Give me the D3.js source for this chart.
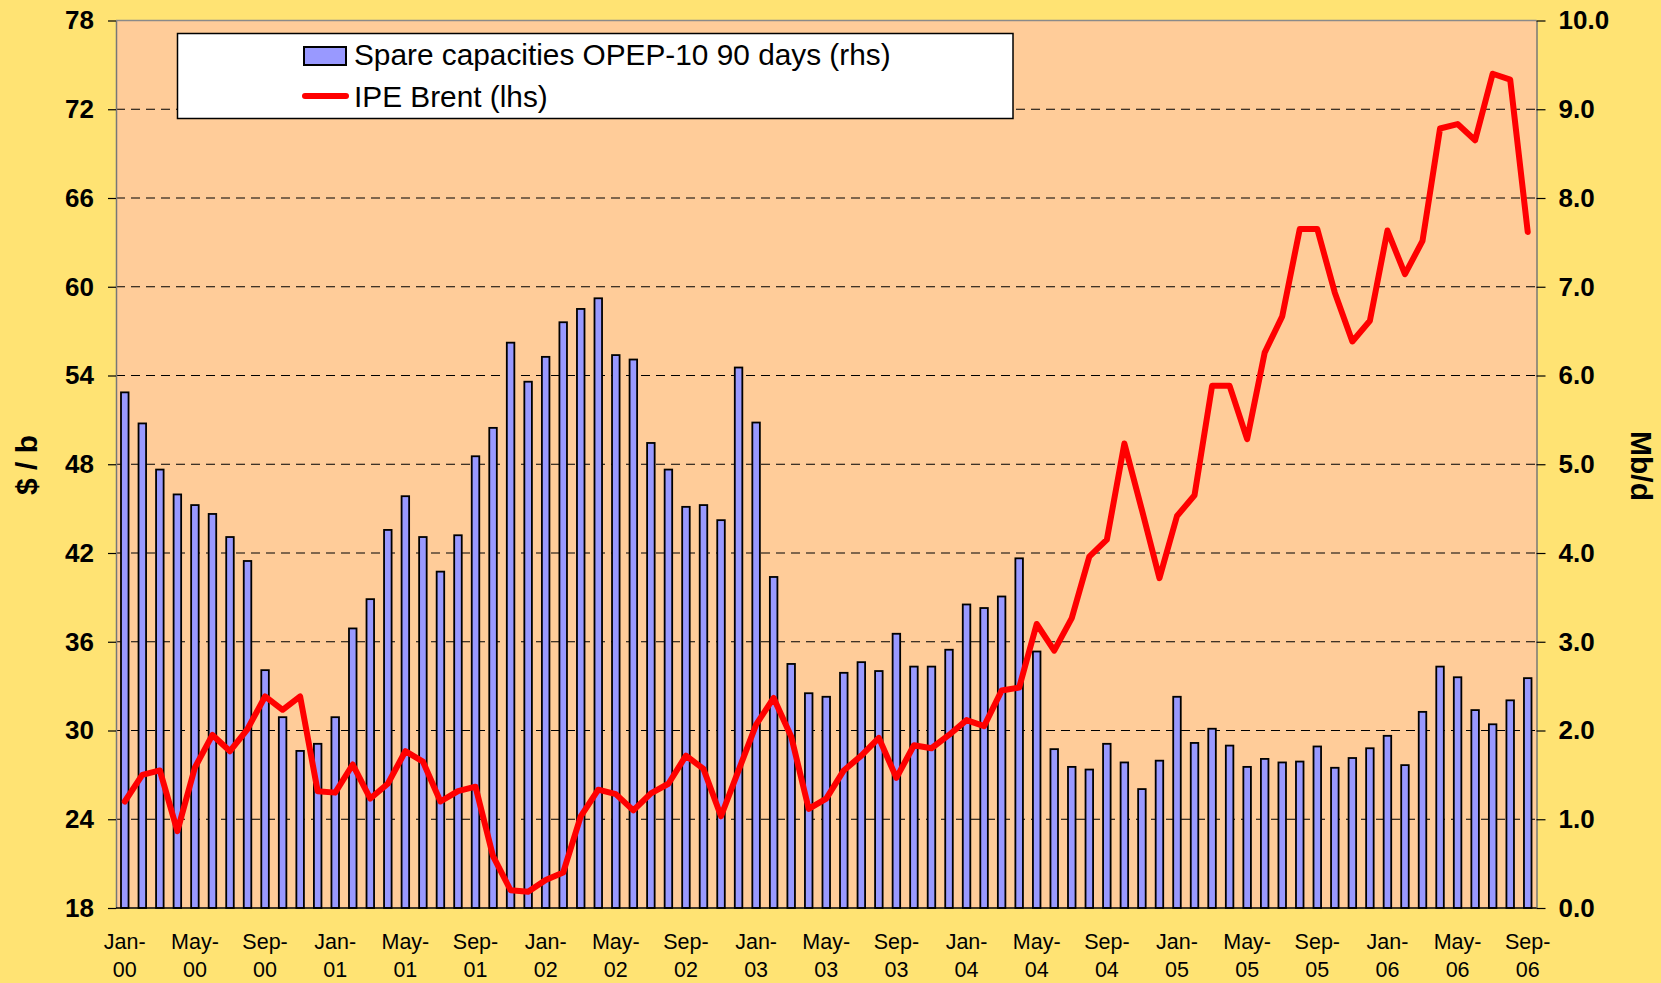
<!DOCTYPE html>
<html>
<head>
<meta charset="utf-8">
<script src="https://cdn.jsdelivr.net/npm/d3@7"></script>
<style>
  body { margin: 0; background: #FFE373; }
  svg { display: block; }
  text { font-family: "Liberation Sans", Arial, sans-serif; }
</style>
</head>
<body>
<div id="chart"></div>
<script>
(function(){
  'use strict';

  var months = [
    'Jan-00','Feb-00','Mar-00','Apr-00','May-00','Jun-00','Jul-00','Aug-00','Sep-00','Oct-00','Nov-00','Dec-00',
    'Jan-01','Feb-01','Mar-01','Apr-01','May-01','Jun-01','Jul-01','Aug-01','Sep-01','Oct-01','Nov-01','Dec-01',
    'Jan-02','Feb-02','Mar-02','Apr-02','May-02','Jun-02','Jul-02','Aug-02','Sep-02','Oct-02','Nov-02','Dec-02',
    'Jan-03','Feb-03','Mar-03','Apr-03','May-03','Jun-03','Jul-03','Aug-03','Sep-03','Oct-03','Nov-03','Dec-03',
    'Jan-04','Feb-04','Mar-04','Apr-04','May-04','Jun-04','Jul-04','Aug-04','Sep-04','Oct-04','Nov-04','Dec-04',
    'Jan-05','Feb-05','Mar-05','Apr-05','May-05','Jun-05','Jul-05','Aug-05','Sep-05','Oct-05','Nov-05','Dec-05',
    'Jan-06','Feb-06','Mar-06','Apr-06','May-06','Jun-06','Jul-06','Aug-06','Sep-06'
  ];

  // spare capacities OPEP-10, Mb/d (rhs)
  var spareCap = [
    5.81, 5.46, 4.94, 4.66, 4.54, 4.44, 4.18, 3.91, 2.68, 2.15, 1.77, 1.85,
    2.15, 3.15, 3.48, 4.26, 4.64, 4.18, 3.79, 4.20, 5.09, 5.41, 6.37, 5.93,
    6.21, 6.60, 6.75, 6.87, 6.23, 6.18, 5.24, 4.94, 4.52, 4.54, 4.37, 6.09,
    5.47, 3.73, 2.75, 2.42, 2.38, 2.65, 2.77, 2.67, 3.09, 2.72, 2.72, 2.91,
    3.42, 3.38, 3.51, 3.94, 2.89, 1.79, 1.59, 1.56, 1.85, 1.64, 1.34, 1.66,
    2.38, 1.86, 2.02, 1.83, 1.59, 1.68, 1.64, 1.65, 1.82, 1.58, 1.69, 1.80,
    1.94, 1.61, 2.21, 2.72, 2.60, 2.23, 2.07, 2.34, 2.59
  ];

  // IPE Brent, $/b (lhs)
  var brent = [
    25.2, 27.0, 27.3, 23.2, 27.5, 29.7, 28.6, 30.1, 32.3, 31.4, 32.3, 25.9,
    25.8, 27.7, 25.4, 26.4, 28.6, 27.9, 25.2, 25.9, 26.2, 21.5, 19.2, 19.1,
    19.9, 20.4, 24.2, 26.0, 25.7, 24.6, 25.75, 26.4, 28.3, 27.4, 24.2, 27.3,
    30.4, 32.2, 29.6, 24.7, 25.4, 27.3, 28.3, 29.5, 26.8, 29.0, 28.8, 29.7,
    30.7, 30.3, 32.7, 32.9, 37.2, 35.4, 37.6, 41.75, 42.9, 49.4, 44.9, 40.3,
    44.5, 45.9, 53.3, 53.3, 49.7, 55.55, 58.0, 63.9, 63.9, 59.6, 56.3, 57.7,
    63.8, 60.85, 63.1, 70.7, 71.0, 69.9, 74.4, 74.0, 63.7
  ];

  var leftTicks = [18, 24, 30, 36, 42, 48, 54, 60, 66, 72, 78];
  var rightTicks = [0, 1, 2, 3, 4, 5, 6, 7, 8, 9, 10];
  var legendLabels = ['Spare capacities OPEP-10 90 days (rhs)', 'IPE Brent (lhs)'];

  var w = 1661, h = 983,
      left = 116, right = 1536.5, top = 20.5, bottom = 908;

  var svg = d3.select('#chart').append('svg')
    .attr('width', w)
    .attr('height', h);

  svg.append('rect')
    .attr('width', w).attr('height', h)
    .attr('fill', '#FFE373');

  svg.append('rect')
    .attr('x', left).attr('y', top)
    .attr('width', right - left).attr('height', bottom - top)
    .attr('fill', '#FFCC99');

  var x = d3.scaleBand()
    .domain(months)
    .range([left, right])
    .paddingInner(0.57)
    .paddingOuter(0.285);

  var yL = d3.scaleLinear().domain([18, 78]).range([bottom, top]),
      yR = d3.scaleLinear().domain([0, 10]).range([bottom, top]);

  // dashed gridlines
  svg.append('g')
    .selectAll('line')
    .data(leftTicks.slice(1, -1))
    .enter().append('line')
    .attr('x1', left).attr('x2', right)
    .attr('y1', function(d){ return yL(d); })
    .attr('y2', function(d){ return yL(d); })
    .attr('stroke', '#000')
    .attr('stroke-width', 1)
    .attr('stroke-dasharray', '9,6');

  // top border
  svg.append('line')
    .attr('x1', left).attr('x2', right)
    .attr('y1', top).attr('y2', top)
    .attr('stroke', '#8a8a8a').attr('stroke-width', 1.5);

  // bars
  svg.append('g')
    .selectAll('rect')
    .data(spareCap)
    .enter().append('rect')
    .attr('x', function(d, i){ return x(months[i]); })
    .attr('y', function(d){ return yR(d); })
    .attr('width', x.bandwidth())
    .attr('height', function(d){ return yR(0) - yR(d); })
    .attr('fill', '#9999FF')
    .attr('stroke', '#000')
    .attr('stroke-width', 1.8);

  // brent line
  var line = d3.line()
    .x(function(d, i){ return x(months[i]) + x.bandwidth() / 2; })
    .y(function(d){ return yL(d); });

  svg.append('path')
    .datum(brent)
    .attr('d', line)
    .attr('fill', 'none')
    .attr('stroke', '#FF0000')
    .attr('stroke-width', 6)
    .attr('stroke-linejoin', 'round')
    .attr('stroke-linecap', 'round');

  // axes
  var gL = svg.append('g')
    .attr('transform', 'translate(' + left + ',0)')
    .call(d3.axisLeft(yL).tickValues(leftTicks).tickSize(8).tickSizeOuter(0).tickPadding(14));

  var gR = svg.append('g')
    .attr('transform', 'translate(' + right + ',0)')
    .call(d3.axisRight(yR).tickValues(rightTicks).tickFormat(d3.format('.1f'))
      .tickSize(9).tickSizeOuter(0).tickPadding(13));

  [gL, gR].forEach(function(g){
    g.select('.domain').attr('stroke', '#777').attr('stroke-width', 1.5);
    g.selectAll('.tick line').attr('stroke', '#000').attr('stroke-width', 1.2);
    g.selectAll('.tick text')
      .attr('fill', '#000')
      .style('font-family', '"Liberation Sans", Arial, sans-serif')
      .style('font-size', '26px')
      .style('font-weight', 'bold');
  });

  var gB = svg.append('g')
    .attr('transform', 'translate(0,' + bottom + ')')
    .call(d3.axisBottom(x)
      .tickValues(months.filter(function(d, i){ return i % 4 === 0; }))
      .tickSize(0).tickSizeOuter(0));

  gB.select('.domain').attr('stroke', '#000').attr('stroke-width', 1.5)
    .attr('d', 'M' + left + ',0H' + right);

  gB.selectAll('.tick text')
    .attr('fill', '#000')
    .style('font-family', '"Liberation Sans", Arial, sans-serif')
    .style('font-size', '21.5px')
    .text(null)
    .each(function(d){
      var t = d3.select(this), parts = d.split('-');
      t.attr('y', 0).attr('dy', null);
      t.append('tspan').attr('x', 0).attr('y', 41).text(parts[0] + '-');
      t.append('tspan').attr('x', 0).attr('y', 69).text(parts[1]);
    });

  // axis titles
  svg.append('text')
    .attr('transform', 'translate(37,465) rotate(-90)')
    .attr('text-anchor', 'middle')
    .style('font-size', '30px')
    .style('font-weight', 'bold')
    .text('$ / b');

  svg.append('text')
    .attr('transform', 'translate(1631,466) rotate(90)')
    .attr('text-anchor', 'middle')
    .style('font-size', '30px')
    .style('font-weight', 'bold')
    .text('Mb/d');

  // legend
  var legend = svg.append('g');
  legend.append('rect')
    .attr('x', 177.5).attr('y', 33.5)
    .attr('width', 835.5).attr('height', 85)
    .attr('fill', '#fff')
    .attr('stroke', '#000')
    .attr('stroke-width', 1.5);

  legend.append('rect')
    .attr('x', 304).attr('y', 47)
    .attr('width', 42).attr('height', 18)
    .attr('fill', '#9999FF')
    .attr('stroke', '#000')
    .attr('stroke-width', 2);

  legend.append('line')
    .attr('x1', 305).attr('x2', 346)
    .attr('y1', 96).attr('y2', 96)
    .attr('stroke', '#FF0000')
    .attr('stroke-width', 6)
    .attr('stroke-linecap', 'round');

  legend.selectAll('text.lab')
    .data(legendLabels)
    .enter().append('text')
    .attr('class', 'lab')
    .attr('x', 354)
    .attr('y', function(d, i){ return 65 + i * 42; })
    .style('font-size', '29.8px')
    .text(function(d){ return d; });

}());
</script>
</body>
</html>
